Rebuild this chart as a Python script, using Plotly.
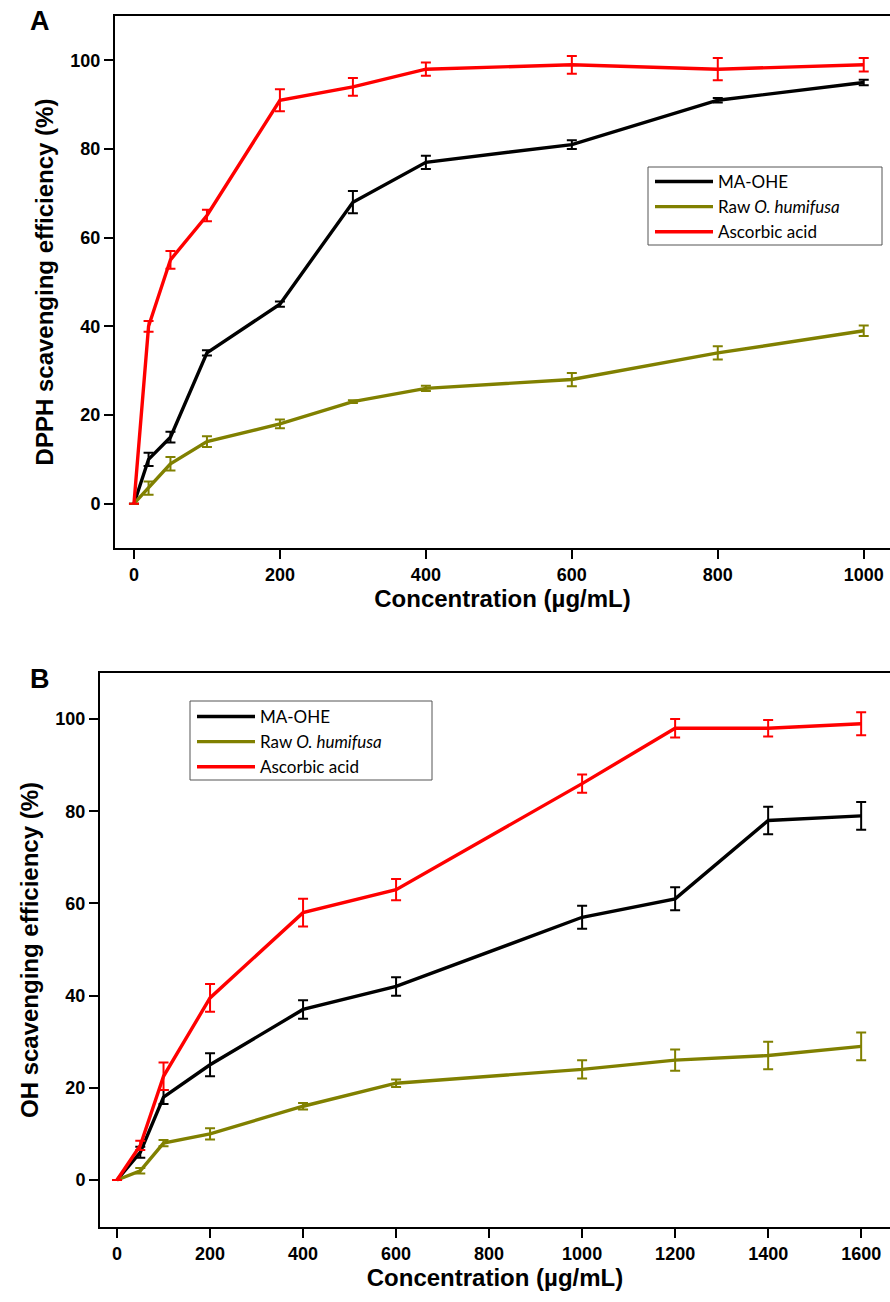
import plotly.graph_objects as go

# ---- Panel A (DPPH) ----
conc_a = [0, 20, 50, 100, 200, 300, 400, 600, 800, 1000]
ma_ohe_a = [0, 10, 15, 34, 45, 68, 77, 81, 91, 95]
ma_ohe_a_err = [0, 1.5, 1.2, 0.6, 0.6, 2.5, 1.5, 1.0, 0.5, 0.6]
raw_a = [0, 3.5, 9, 14, 18, 23, 26, 28, 34, 39]
raw_a_err = [0, 1.5, 1.5, 1.2, 1.0, 0.3, 0.6, 1.5, 1.5, 1.2]
asc_a = [0, 40, 55, 65, 91, 94, 98, 99, 98, 99]
asc_a_err = [0, 1.2, 2.0, 1.3, 2.5, 2.0, 1.5, 2.0, 2.5, 1.5]

# ---- Panel B (OH) ----
conc_b = [0, 50, 100, 200, 400, 600, 1000, 1200, 1400, 1600]
ma_ohe_b = [0, 6, 18, 25, 37, 42, 57, 61, 78, 79]
ma_ohe_b_err = [0, 1.2, 1.5, 2.5, 2.0, 2.0, 2.5, 2.5, 3.0, 3.0]
raw_b = [0, 2, 8, 10, 16, 21, 24, 26, 27, 29]
raw_b_err = [0, 0.6, 0.7, 1.2, 0.7, 0.8, 2.0, 2.3, 3.0, 3.0]
asc_b = [0, 7.5, 22.5, 39.5, 58, 63, 86, 98, 98, 99]
asc_b_err = [0, 1.0, 3.0, 3.0, 3.0, 2.3, 2.0, 2.0, 1.8, 2.5]

series_names = ["MA-OHE", "Raw <i>O. humifusa</i>", "Ascorbic acid"]
colors = ["#000000", "#808000", "#ff0000"]

x_ticks_a = [0, 200, 400, 600, 800, 1000]
x_ticks_b = [0, 200, 400, 600, 800, 1000, 1200, 1400, 1600]
y_ticks = [0, 20, 40, 60, 80, 100]

W, H = 890, 1302
narrow = "Liberation Sans Narrow, Arial Narrow, Liberation Sans, Arial, sans-serif"
legfont = "Lato, Open Sans, sans-serif"

fig = go.Figure()

def add_series(xs, ys, errs, name, color, xa, ya, legend):
    fig.add_trace(go.Scatter(
        x=xs, y=ys, mode="lines", name=name,
        line=dict(color=color, width=3.4),
        error_y=dict(type="data", array=errs, visible=True, color=color,
                     thickness=2, width=5),
        xaxis=xa, yaxis=ya, legend=legend,
    ))

for ys, errs, nm, c in zip([ma_ohe_a, raw_a, asc_a], [ma_ohe_a_err, raw_a_err, asc_a_err], series_names, colors):
    add_series(conc_a, ys, errs, nm, c, "x", "y", "legend")
for ys, errs, nm, c in zip([ma_ohe_b, raw_b, asc_b], [ma_ohe_b_err, raw_b_err, asc_b_err], series_names, colors):
    add_series(conc_b, ys, errs, nm, c, "x2", "y2", "legend2")

def px_x(p):
    return p / W

def px_y(p):
    return 1 - p / H

tickfont = dict(family=narrow, size=18, color="black", weight="bold")
titlefont = dict(family=narrow, size=24, color="black")

axis_common = dict(
    showline=True, linecolor="black", linewidth=2,
    ticks="outside", ticklen=9, tickwidth=2, tickcolor="black",
    showgrid=False, zeroline=False, tickfont=tickfont,
)

legend_common = dict(
    xanchor="left", yanchor="top",
    borderwidth=0, bgcolor="rgba(0,0,0,0)",
    font=dict(family=legfont, size=17, color="black"),
    tracegroupgap=0, itemwidth=58,
)

def legend_frame(x0, y0, x1, y1):
    return dict(type="rect", xref="paper", yref="paper",
                x0=px_x(x0), x1=px_x(x1), y0=px_y(y1), y1=px_y(y0),
                line=dict(color="#555555", width=1), fillcolor="white",
                layer="above")

fig.update_layout(
    width=W, height=H,
    margin=dict(l=0, r=0, t=0, b=0),
    paper_bgcolor="white", plot_bgcolor="white",
    showlegend=True,
    xaxis=dict(domain=[px_x(115), 1], range=[-26, 1036], tickvals=x_ticks_a,
               anchor="y", mirror=True, automargin=False,
               title=dict(text="<b>Concentration (µg/mL)</b>", font=titlefont, standoff=6),
               **axis_common),
    yaxis=dict(domain=[px_y(548), px_y(16)], range=[-10, 110], tickvals=y_ticks,
               anchor="x", automargin=False,
               title=dict(text="<b>DPPH scavenging efficiency (%)</b>", font=titlefont, standoff=10),
               **axis_common),
    xaxis2=dict(domain=[px_x(100), 1], range=[-36.6, 1662], tickvals=x_ticks_b,
                anchor="y2", mirror=True, automargin=False,
                title=dict(text="<b>Concentration (µg/mL)</b>", font=titlefont, standoff=6),
                **axis_common),
    yaxis2=dict(domain=[px_y(1227), px_y(673)], range=[-10.2, 110], tickvals=y_ticks,
                anchor="x2", automargin=False,
                title=dict(text="<b>OH scavenging efficiency (%)</b>", font=titlefont, standoff=10),
                **axis_common),
    legend=dict(x=px_x(650), y=px_y(164), **legend_common),
    legend2=dict(x=px_x(192), y=px_y(699), **legend_common),
    shapes=[legend_frame(648, 167, 882, 245), legend_frame(190, 701, 432, 780)],
    annotations=[
        dict(text="<b>A</b>", x=px_x(40), y=px_y(21), xref="paper", yref="paper",
             xanchor="center", yanchor="middle",
             showarrow=False, font=dict(family=narrow, size=27, color="black")),
        dict(text="<b>B</b>", x=px_x(40), y=px_y(679), xref="paper", yref="paper",
             xanchor="center", yanchor="middle",
             showarrow=False, font=dict(family=narrow, size=27, color="black")),
    ],
)

fig.write_html("out.html")
